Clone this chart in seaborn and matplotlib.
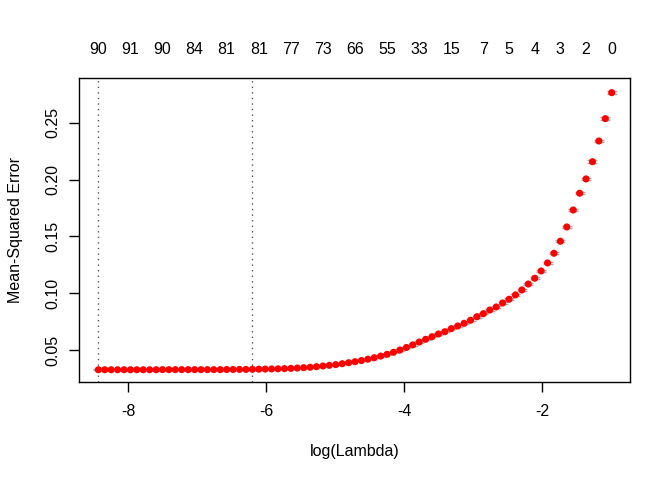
import matplotlib
matplotlib.use("Agg")
import matplotlib.pyplot as plt
import seaborn as sns
import pandas as pd

log_lambda = [
    -0.990, -1.083, -1.176, -1.269, -1.362, -1.455, -1.548, -1.641, -1.734, -1.827,
    -1.920, -2.013, -2.106, -2.199, -2.292, -2.385, -2.478, -2.571, -2.664, -2.757,
    -2.850, -2.943, -3.036, -3.129, -3.222, -3.315, -3.408, -3.501, -3.594, -3.687,
    -3.780, -3.873, -3.966, -4.059, -4.152, -4.245, -4.338, -4.431, -4.524, -4.617,
    -4.710, -4.803, -4.896, -4.989, -5.082, -5.175, -5.268, -5.361, -5.454, -5.547,
    -5.640, -5.733, -5.826, -5.919, -6.012, -6.105, -6.198, -6.291, -6.384, -6.477,
    -6.570, -6.663, -6.756, -6.849, -6.942, -7.035, -7.128, -7.221, -7.314, -7.407,
    -7.500, -7.593, -7.686, -7.779, -7.872, -7.965, -8.058, -8.151, -8.244, -8.337,
    -8.430,
]

mse = [
    0.2767, 0.2538, 0.2341, 0.2159, 0.2007, 0.1881, 0.1733, 0.1584, 0.1458, 0.1352,
    0.1267, 0.1196, 0.1132, 0.1081, 0.1029, 0.0985, 0.0947, 0.0914, 0.0879, 0.0852,
    0.0820, 0.0793, 0.0762, 0.0735, 0.0711, 0.0688, 0.0661, 0.0641, 0.0617, 0.0594,
    0.0570, 0.0545, 0.0522, 0.0500, 0.0480, 0.0462, 0.0446, 0.0432, 0.0419, 0.0407,
    0.0397, 0.0388, 0.0379, 0.0371, 0.0365, 0.0359, 0.0353, 0.0348, 0.0344, 0.0341,
    0.0338, 0.0336, 0.0334, 0.0333, 0.0332, 0.0331, 0.0330, 0.0329, 0.0329, 0.0328,
    0.0328, 0.0327, 0.0327, 0.0327, 0.0327, 0.0327, 0.0327, 0.0327, 0.0327, 0.0327,
    0.0327, 0.0326, 0.0326, 0.0326, 0.0326, 0.0326, 0.0326, 0.0326, 0.0326, 0.0326,
    0.0326,
]

mse_se = [
    0.0013, 0.0013, 0.0012, 0.0012, 0.0011, 0.0011, 0.0011, 0.0010, 0.0010, 0.0010,
    0.0009, 0.0009, 0.0009, 0.0009, 0.0008, 0.0008, 0.0008, 0.0008, 0.0008, 0.0007,
    0.0007, 0.0007, 0.0007, 0.0007, 0.0007, 0.0006, 0.0006, 0.0006, 0.0006, 0.0006,
    0.0006, 0.0006, 0.0005, 0.0005, 0.0005, 0.0005, 0.0005, 0.0005, 0.0005, 0.0005,
    0.0005, 0.0005, 0.0005, 0.0005, 0.0005, 0.0005, 0.0005, 0.0005, 0.0005, 0.0005,
    0.0005, 0.0005, 0.0005, 0.0005, 0.0005, 0.0005, 0.0005, 0.0005, 0.0005, 0.0005,
    0.0005, 0.0005, 0.0005, 0.0005, 0.0005, 0.0005, 0.0005, 0.0005, 0.0005, 0.0005,
    0.0005, 0.0005, 0.0005, 0.0005, 0.0005, 0.0005, 0.0005, 0.0005, 0.0005, 0.0005,
    0.0005,
]

# number of nonzero coefficients shown on the top axis (index into log_lambda)
nz_index = [0, 4, 8, 12, 16, 20, 25, 30, 35, 40, 45, 50, 55, 60, 65, 70, 75, 80]
nz_labels = ["0", "2", "3", "4", "5", "7", "15", "33", "55", "66", "73", "77",
             "81", "81", "84", "90", "91", "90"]

lambda_min_index = 80
lambda_1se_index = 56

x_ticks = [-8, -6, -4, -2]
y_ticks = [0.05, 0.10, 0.15, 0.20, 0.25]

sns.set_theme(style="ticks")
plt.rcParams["font.family"] = ["Liberation Sans", "DejaVu Sans"]
FS = 11.5

df = pd.DataFrame({"log_lambda": log_lambda, "mse": mse, "se": mse_se})

fig = plt.figure(figsize=(6.72, 4.8), dpi=100)
ax = fig.add_axes([79 / 672, 1 - 382 / 480, (630 - 79) / 672, (382 - 78) / 480])

ax.errorbar(df["log_lambda"], df["mse"], yerr=df["se"], fmt="none",
            ecolor="#A9A9A9", elinewidth=1.0, capsize=3.5, capthick=1.0, zorder=2)
sns.scatterplot(data=df, x="log_lambda", y="mse", ax=ax, color="#FF0000",
                s=26, edgecolor="none", linewidth=0, zorder=3, legend=False)

for idx in (lambda_min_index, lambda_1se_index):
    ax.axvline(log_lambda[idx], color="#555555", lw=1.0, linestyle=(0, (1, 3)), zorder=1)

ax.set_xlim(-8.71, -0.725)
ax.set_ylim(0.0218, 0.2896)
ax.set_xticks(x_ticks)
ax.set_xticklabels([str(v) for v in x_ticks])
ax.set_yticks(y_ticks)
ax.set_yticklabels([f"{v:.2f}" for v in y_ticks], rotation=90, va="center")

ax.tick_params(axis="both", direction="out", length=7.5, width=1.0, colors="black",
               labelsize=FS, labelcolor="black")
ax.tick_params(axis="x", pad=8)
ax.tick_params(axis="y", pad=6)

for sp in ax.spines.values():
    sp.set_visible(True)
    sp.set_color("black")
    sp.set_linewidth(1.0)

ax.set_xlabel("log(Lambda)", fontsize=FS, color="black", labelpad=18)
ax.set_ylabel("Mean-Squared Error", fontsize=FS, color="black", labelpad=16)

top = ax.secondary_xaxis("top")
top.set_xticks([log_lambda[i] for i in nz_index])
top.set_xticklabels(nz_labels)
top.tick_params(axis="x", length=0, pad=15, labelsize=FS, labelcolor="black")
top.spines["top"].set_visible(False)

ax.set_facecolor("white")
fig.patch.set_facecolor("white")
fig.savefig("out.png", dpi=100, facecolor="white")
